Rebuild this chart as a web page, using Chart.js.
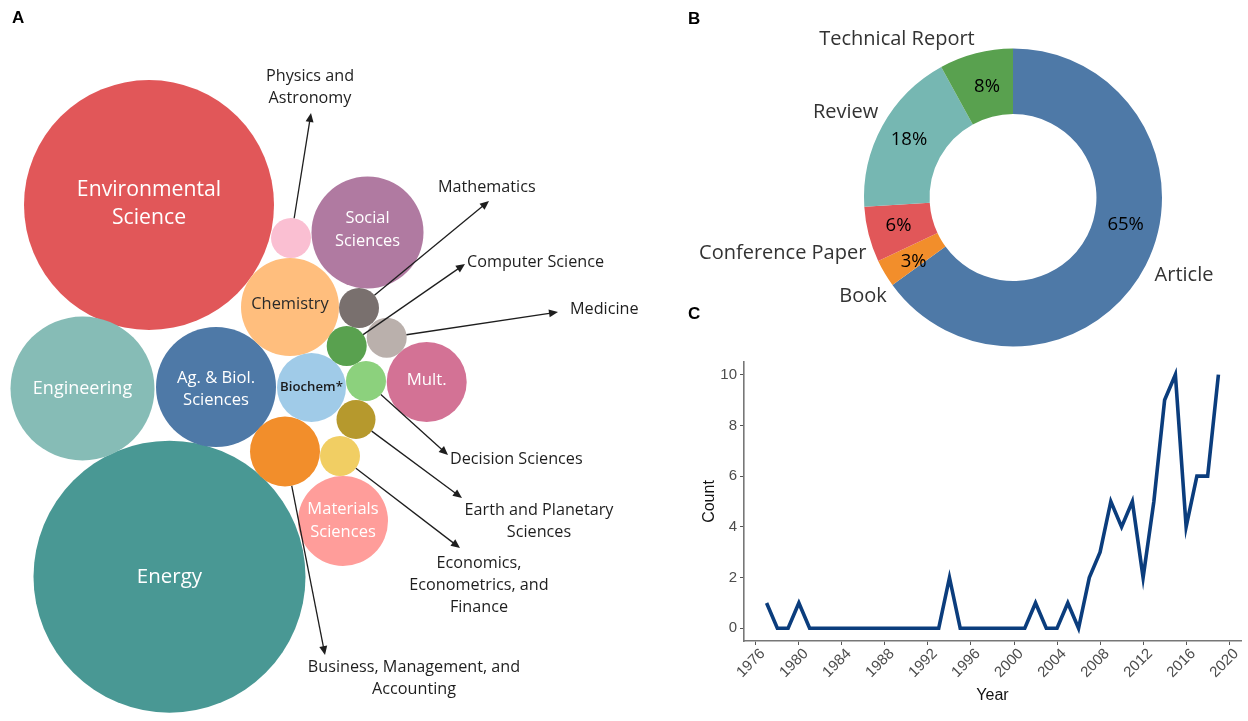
<!DOCTYPE html>
<html><head><meta charset="utf-8">
<script src="https://cdn.jsdelivr.net/npm/chart.js@4.4.1/dist/chart.umd.min.js"></script>
<style>
html,body{margin:0;padding:0;background:#fff;width:1248px;height:721px;overflow:hidden;position:relative}
canvas{position:absolute}
.pl{position:absolute;font:bold 17px "Liberation Sans",Arial,sans-serif;color:#000;line-height:17px}
</style></head><body>
<canvas id="cA" width="680" height="721" style="left:0;top:0;width:680px;height:721px"></canvas>
<canvas id="cB" width="568" height="350" style="left:680px;top:0;width:568px;height:350px"></canvas>
<canvas id="cC" width="552" height="371" style="left:696px;top:350px;width:552px;height:371px"></canvas>
<div class="pl" style="left:12px;top:9px">A</div>
<div class="pl" style="left:688px;top:10px">B</div>
<div class="pl" style="left:688px;top:305px">C</div>
<script>
// ---------- Panel A: subject areas (packed bubbles) ----------
const fields = ['Environmental Science','Energy','Engineering','Ag. & Biol. Sciences','Social Sciences','Chemistry',
  'Materials Sciences','Mult.','Business, Management, and Accounting','Biochem*','Physics and Astronomy','Mathematics',
  'Computer Science','Medicine','Decision Sciences','Earth and Planetary Sciences','Economics, Econometrics, and Finance'];
const fieldSize = [125,136,72,60,56,49,45,40,35,34.5,20,20,20,20,20,19.5,20];
const layoutX = [149,169.5,82.5,216,367.5,290,343,426.7,285,311.5,291,359,346.7,386.7,366,356,340];
const layoutY = [205,576.7,388.5,387,232.5,307,521,382,451.5,387.5,238,308,346,337.7,381,419.5,456];
const fieldColors = ['#e15759','#499894','#86bcb6','#4e79a7','#b07aa1','#ffbe7d','#ff9d9a','#d37295','#f28e2b',
  '#a0cbe8','#fabfd2','#79706e','#59a14f','#bab0ac','#8cd17d','#b6992d','#f1ce63'];

// text written inside bubbles
const innerLabels = {
  'Environmental Science':['Environmental','Science'], 'Energy':['Energy'], 'Engineering':['Engineering'],
  'Ag. & Biol. Sciences':['Ag. & Biol.','Sciences'], 'Social Sciences':['Social','Sciences'], 'Chemistry':['Chemistry'],
  'Materials Sciences':['Materials','Sciences'], 'Mult.':['Mult.'], 'Biochem*':['Biochem*']
};
// text of call-outs for small bubbles
const calloutLabels = {
  'Physics and Astronomy':['Physics and','Astronomy'], 'Mathematics':['Mathematics'], 'Computer Science':['Computer Science'],
  'Medicine':['Medicine'], 'Decision Sciences':['Decision Sciences'], 'Earth and Planetary Sciences':['Earth and Planetary','Sciences'],
  'Economics, Econometrics, and Finance':['Economics,','Econometrics, and','Finance'],
  'Business, Management, and Accounting':['Business, Management, and','Accounting']
};

// styles (not data)
const innerStyle = {
  'Environmental Science':{size:21.2,color:'#fff',lh:28,dy:-1}, 'Energy':{size:20.5,color:'#fff',lh:24,dy:0},
  'Engineering':{size:18,color:'#fff',lh:22,dy:0}, 'Ag. & Biol. Sciences':{size:16.6,color:'#fff',lh:22,dy:2},
  'Social Sciences':{size:16.4,color:'#fff',lh:23,dy:-3}, 'Chemistry':{size:16.4,color:'#2a2a2a',lh:20,dy:-3},
  'Materials Sciences':{size:16.5,color:'#fff',lh:22.5,dy:0}, 'Mult.':{size:16.8,color:'#fff',lh:20,dy:-2},
  'Biochem*':{size:13.2,color:'#1a1a1a',lh:16,dy:0,weight:'600'}
};
const calloutStyle = {
  'Physics and Astronomy':{tip:[311,113],text:[310,76],align:'center'},
  'Mathematics':{tip:[489,201],text:[438,187],align:'left'},
  'Computer Science':{tip:[465,264],text:[467,262],align:'left'},
  'Medicine':{tip:[558,312],text:[570,309],align:'left'},
  'Decision Sciences':{tip:[448,455],text:[450,459],align:'left'},
  'Earth and Planetary Sciences':{tip:[462,498],text:[539,510],align:'center'},
  'Economics, Econometrics, and Finance':{tip:[460,548],text:[479,563],align:'center'},
  'Business, Management, and Accounting':{tip:[325,655],text:[414,667],align:'center'}
};

const bubbleText = {
  id:'bubbleText',
  afterDatasetsDraw(chart){
    const ctx = chart.ctx, xs = chart.scales.x, ys = chart.scales.y;
    const meta = chart.getDatasetMeta(0);
    ctx.save();
    ctx.textAlign='center'; ctx.textBaseline='middle';
    fields.forEach((f,i)=>{
      const lines = innerLabels[f]; if(!lines) return;
      const st = innerStyle[f]; const el = meta.data[i];
      ctx.font = (st.weight||'400')+' '+st.size+'px "Open Sans", sans-serif';
      ctx.fillStyle = st.color;
      const y0 = el.y + st.dy - (lines.length-1)*st.lh/2;
      lines.forEach((t,k)=>ctx.fillText(t, el.x, y0+k*st.lh));
    });
    // call-outs
    ctx.strokeStyle='#1e1e1e'; ctx.fillStyle='#1e1e1e'; ctx.lineWidth=1.3;
    Object.keys(calloutStyle).forEach(f=>{
      const i = fields.indexOf(f), el = meta.data[i], st = calloutStyle[f];
      const tx = xs.getPixelForValue(st.tip[0]), ty = ys.getPixelForValue(st.tip[1]);
      const dx = tx-el.x, dy = ty-el.y, d = Math.hypot(dx,dy), ux = dx/d, uy = dy/d;
      const r = el.options.radius;
      const sx = el.x+ux*r, sy = el.y+uy*r;
      const hl = 9, hw = 4;
      ctx.beginPath(); ctx.moveTo(sx,sy); ctx.lineTo(tx-ux*hl*0.8, ty-uy*hl*0.8); ctx.stroke();
      ctx.beginPath(); ctx.moveTo(tx,ty);
      ctx.lineTo(tx-ux*hl-uy*hw, ty-uy*hl+ux*hw);
      ctx.lineTo(tx-ux*hl+uy*hw, ty-uy*hl-ux*hw);
      ctx.closePath(); ctx.fill();
      ctx.font = '400 16.2px "Open Sans", sans-serif';
      ctx.textAlign = st.align; ctx.textBaseline='middle';
      const lx = xs.getPixelForValue(st.text[0]), ly = ys.getPixelForValue(st.text[1]);
      calloutLabels[f].forEach((t,k)=>ctx.fillText(t, lx, ly+k*22));
    });
    ctx.restore();
  }
};

new Chart(document.getElementById('cA'), {
  type:'bubble',
  data:{labels:fields, datasets:[{data:fields.map((f,i)=>({x:layoutX[i], y:layoutY[i], r:fieldSize[i]})),
    backgroundColor:fieldColors, borderWidth:0, hoverRadius:0, clip:false}]},
  options:{responsive:false, animation:false, layout:{padding:0, autoPadding:false},
    plugins:{legend:{display:false}, tooltip:{enabled:false}},
    scales:{x:{display:false,min:0,max:680}, y:{display:false,min:0,max:721,reverse:true}}},
  plugins:[bubbleText]
});

// ---------- Panel B: document types ----------
const docTypes = ['Article','Book','Conference Paper','Review','Technical Report'];
const docShare = [65,3,6,18,8];
const docPctLabels = ['65%','3%','6%','18%','8%'];
const docColors = ['#4e79a7','#f28e2b','#e15759','#76b7b2','#59a14f'];
const docNameOffset = [[171,77.5],[-150,98.5],[-230.3,55.5],[-167.4,-85.5],[-116,-158.5]];
const docPctOffset = [[112.6,27.5],[-99.3,64.5],[-114.5,28.2],[-104,-57.5],[-26,-110.5]];

const donutText = {
  id:'donutText',
  afterDatasetsDraw(chart){
    const ctx = chart.ctx, arc = chart.getDatasetMeta(0).data[0];
    const cx = arc.x, cy = arc.y;
    ctx.save(); ctx.textAlign='center'; ctx.textBaseline='middle';
    ctx.font='400 20px "Open Sans", sans-serif'; ctx.fillStyle='#333';
    docTypes.forEach((t,i)=>ctx.fillText(t, cx+docNameOffset[i][0], cy+docNameOffset[i][1]));
    ctx.font='400 18.5px "Open Sans", sans-serif'; ctx.fillStyle='#000';
    docPctLabels.forEach((t,i)=>ctx.fillText(t, cx+docPctOffset[i][0], cy+docPctOffset[i][1]));
    ctx.restore();
  }
};

new Chart(document.getElementById('cB'), {
  type:'doughnut',
  data:{labels:docTypes, datasets:[{data:docShare, backgroundColor:docColors, borderWidth:0, hoverOffset:0}]},
  options:{responsive:false, animation:false, cutout:'56%', rotation:0,
    layout:{padding:{left:184,right:86,top:48.5,bottom:3.5}},
    plugins:{legend:{display:false}, tooltip:{enabled:false}}},
  plugins:[donutText]
});

// ---------- Panel C: publications per year ----------
const years = [1977,1978,1979,1980,1981,1982,1983,1984,1985,1986,1987,1988,1989,1990,1991,1992,1993,1994,1995,1996,
  1997,1998,1999,2000,2001,2002,2003,2004,2005,2006,2007,2008,2009,2010,2011,2012,2013,2014,2015,2016,2017,2018,2019];
const counts = [1,0,0,1,0,0,0,0,0,0,0,0,0,0,0,0,0,2,0,0,0,0,0,0,0,1,0,0,1,0,2,3,5,4,5,2,5,9,10,4,6,6,10];
const yearTicks = [1976,1980,1984,1988,1992,1996,2000,2004,2008,2012,2016,2020];
const countTicks = [0,2,4,6,8,10];

new Chart(document.getElementById('cC'), {
  type:'line',
  data:{datasets:[{data:years.map((y,i)=>({x:y,y:counts[i]})), borderColor:'#0b3d7d', borderWidth:3.6,
    pointRadius:0, tension:0, fill:false, borderJoinStyle:'miter', clip:false}]},
  options:{responsive:false, animation:false, layout:{padding:{top:8,right:7,left:0,bottom:0}},
    plugins:{legend:{display:false}, tooltip:{enabled:false}},
    scales:{
      x:{type:'linear', min:1974.9, max:2021.1,
        afterBuildTicks:s=>{s.ticks=yearTicks.map(v=>({value:v}));}, afterFit:s=>{s.height=80;},
        ticks:{minRotation:45,maxRotation:45,autoSkip:false,color:'#4d4d4d',padding:0,labelOffset:7,
          font:{family:'"Liberation Sans", Arial, sans-serif',size:15}, callback:v=>String(v)},
        grid:{drawOnChartArea:false,drawTicks:true,tickLength:4,color:'#555',lineWidth:1},
        border:{display:true,color:'#777',width:1.6},
        title:{display:true,text:'Year',color:'#111',font:{family:'"Liberation Sans", Arial, sans-serif',size:16},padding:{top:4,bottom:16}}},
      y:{min:-0.5, max:10.5,
        afterBuildTicks:s=>{s.ticks=countTicks.map(v=>({value:v}));}, afterFit:s=>{s.width=48;},
        ticks:{color:'#4d4d4d',padding:3,font:{family:'"Liberation Sans", Arial, sans-serif',size:15}, callback:v=>String(v)},
        grid:{drawOnChartArea:false,drawTicks:true,tickLength:4,color:'#555',lineWidth:1},
        border:{display:true,color:'#777',width:1.6},
        title:{display:true,text:'Count',color:'#111',font:{family:'"Liberation Sans", Arial, sans-serif',size:16},padding:{top:4,bottom:4}}}
    }}
});
</script>
</body></html>
